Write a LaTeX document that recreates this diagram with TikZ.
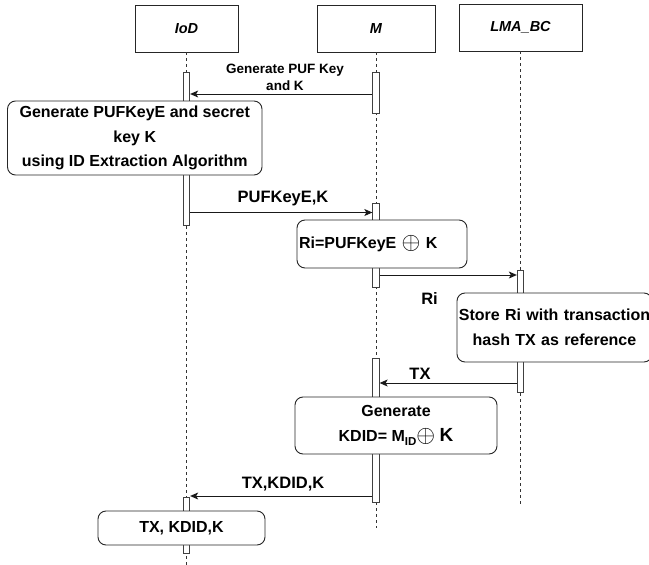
\documentclass[tikz,border=0pt]{standalone}
\usepackage{graphicx}
\usepackage{fontspec}
\setmainfont{Liberation Sans}
\usetikzlibrary{arrows.meta}

% circled plus, set a little larger than the surrounding text
\newcommand{\bigxor}{\raisebox{-1.2pt}{\scalebox{1.4}{$\oplus$}}}

\tikzset{
  header/.style={draw=black!85, line width=0.9pt, fill=white, minimum height=47,
    inner sep=0, font=\fontsize{14.5}{17}\selectfont\bfseries\itshape},
  lifeline/.style={draw=black!80, dash pattern=on 3pt off 3pt, line width=0.7pt},
  actbar/.style={draw=black!75, fill=white, line width=0.8pt, minimum width=6.5, inner sep=0},
  procbox/.style={draw=black!85, fill=white, rounded corners=8pt, line width=0.9pt,
    inner sep=0, align=center, font=\fontsize{16}{24.5}\selectfont\bfseries},
  msg/.style={draw=black!90, line width=0.9pt, -{Stealth[length=8pt,width=7pt,inset=2pt]}},
  msglabel/.style={font=\fontsize{16.5}{19}\selectfont\bfseries, inner sep=0},
  smalllabel/.style={font=\fontsize{13.5}{17}\selectfont\bfseries, align=center, inner sep=0},
}

\begin{document}
\begin{tikzpicture}[x=1pt, y=-1pt]
\useasboundingbox (0,0) rectangle (649,565);

% participants
\node[header, minimum width=103] (iod) at (186.5,28.5) {IoD};
\node[header, minimum width=118] (m)   at (376,28.5)   {M};
\node[header, minimum width=123] (lma) at (520.5,27.5) {LMA\_BC};

% lifeline ends
\coordinate (iodend) at (186.5,565);
\coordinate (mend)   at (376,528);
\coordinate (lmaend) at (520.5,507);

\draw[lifeline] (iod.south) -- (iodend);
\draw[lifeline] (m.south)   -- (mend);
\draw[lifeline] (lma.south) -- (lmaend);

% activation bars
\node[actbar, minimum height=153] (ib1) at (186.5,148.5) {};
\node[actbar, minimum height=41]  (mb1) at (376,92.5)    {};
\node[actbar, minimum height=84]  (mb2) at (376,245)     {};
\node[actbar, minimum height=122] (lb1) at (520.5,331)   {};
\node[actbar, minimum height=144] (mb3) at (376,430)     {};
\node[actbar, minimum height=56]  (ib2) at (186.5,525)   {};

% processing steps
\node[procbox, minimum width=254.5, minimum height=74] (gen) at (134.75,138)
  {Generate PUFKeyE and secret\\key K\\using ID Extraction Algorithm};
\node[procbox, minimum width=170, minimum height=48, text width=166, align=left,
  inner xsep=2] (ri) at (382,244) {Ri=PUFKeyE \bigxor{} K};
\node[procbox, minimum width=195, minimum height=69, text width=195] (store) at (554.5,327.5)
  {Store Ri with transaction\\hash TX as reference};
\node[procbox, minimum width=202, minimum height=57] (kdid) at (396,425.5)
  {Generate\\KDID= M\raisebox{-4pt}{\fontsize{11.5}{12}\selectfont ID}\bigxor{} {\fontsize{19}{20}\selectfont K}};
\node[procbox, minimum width=167, minimum height=34] (res) at (181.5,528)
  {TX, KDID,K};

% messages
\draw[msg] (mb1.west |- 0,94)    -- (ib1.east |- 0,94);
\draw[msg] (ib1.east |- 0,212.5) -- (mb2.west |- 0,212.5);
\draw[msg] (mb2.east |- 0,275)   -- (lb1.west |- 0,275);
\draw[msg] (lb1.west |- 0,383)   -- (mb3.east |- 0,383);
\draw[msg] (mb3.west |- 0,496)   -- (ib2.east |- 0,496);

% message labels
\node[smalllabel] (l1) at (285,77.5) {Generate PUF Key\\and K};
\node[msglabel]   (l2) at (283,199)  {PUFKeyE,K};
\node[msglabel]   (l3) at (429.5,299) {Ri};
\node[msglabel]   (l4) at (420,374)  {TX};
\node[msglabel]   (l5) at (283,484)  {TX,KDID,K};
\end{tikzpicture}
\end{document}
